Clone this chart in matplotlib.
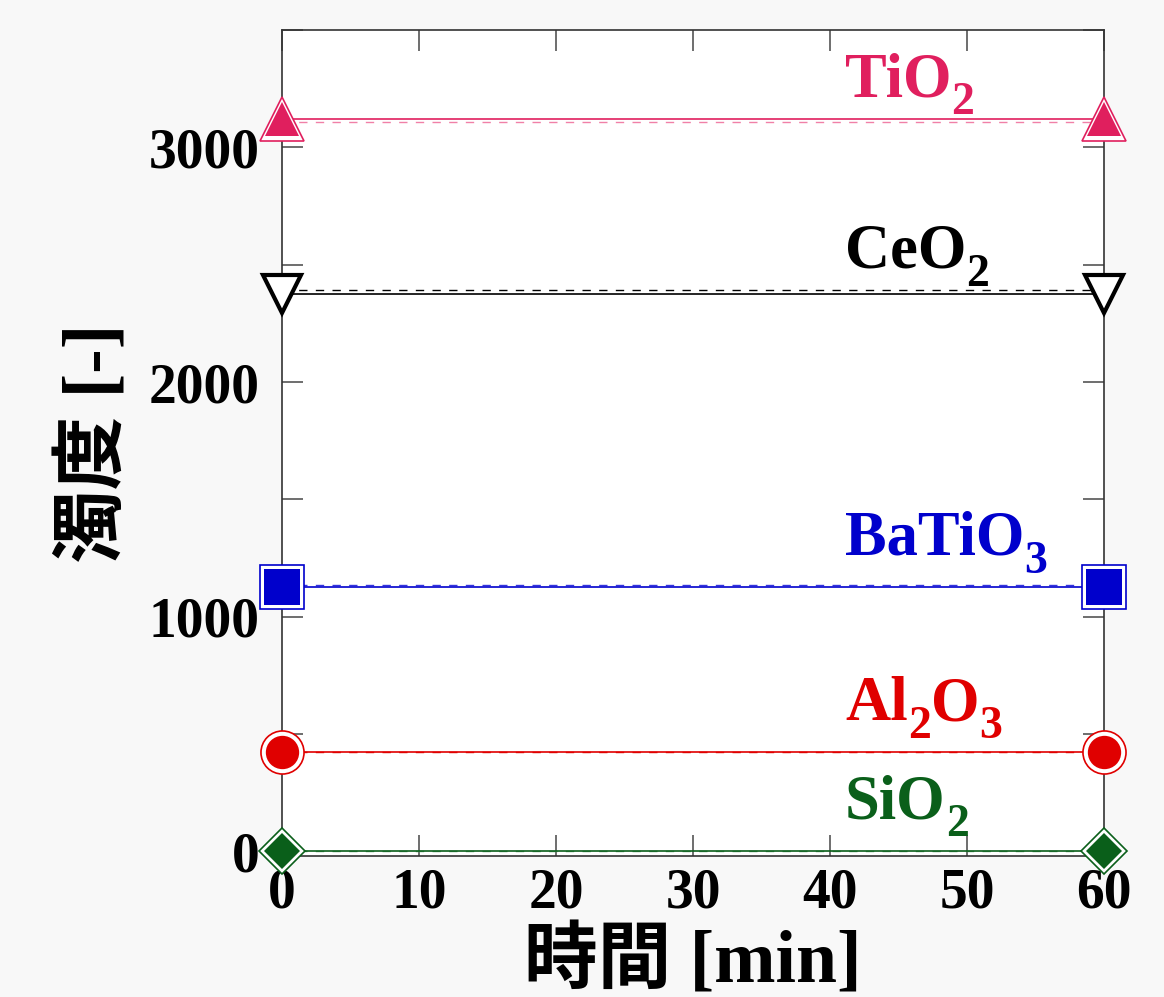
import numpy as np
import matplotlib
matplotlib.use("Agg")
import matplotlib.pyplot as plt
from matplotlib.transforms import offset_copy

plt.rcParams["font.family"] = ["Liberation Serif", "Noto Sans CJK JP"]
plt.rcParams["font.weight"] = "bold"

# time points (min)
time = [0, 60]

materials = ["TiO2", "CeO2", "BaTiO3", "Al2O3", "SiO2"]
# label pieces: (text, is_subscript)
label_parts = [
    [("TiO", False), ("2", True)],
    [("CeO", False), ("2", True)],
    [("BaTiO", False), ("3", True)],
    [("Al", False), ("2", True), ("O", False), ("3", True)],
    [("SiO", False), ("2", True)],
]
# turbidity, measured (solid) and reference (dashed)
turb_solid = [3120, 2373, 1127, 423, 0]
turb_dashed = [3108, 2394, 1135, 423, 2]
label_y = [3218, 2488, 1263, 559, 141]

colors = ["#E01F5E", "#000000", "#0000CC", "#E00000", "#0A5F1A"]
dash_colors = ["#F080A8", "#000000", "#3333DD", "#E00000", "#5FA070"]
markers = ["^", "v", "s", "o", "D"]
inner_size = [24, 28, 26, 24, 18]
outer_size = [31, 28, 31.5, 31, 23.5]

fig = plt.figure(figsize=(11.64, 9.97), dpi=100, facecolor="#F8F8F8")
ax = fig.add_axes([0.2423, 0.1414, 0.7062, 0.8285])
ax.set_facecolor("white")
ax.set_xlim(0, 60)
ax.set_ylim(-20, 3500)
renderer = fig.canvas.get_renderer()


def chem_label(x, y, parts, color, size=45, sub_size=33, sub_drop=13):
    # write a formula piece by piece so subscripts sit low like a print formula
    dx = 0.0
    for txt, sub in parts:
        tr = offset_copy(ax.transData, fig=fig, x=dx, y=-sub_drop if sub else 0,
                         units="points")
        t = ax.text(x, y, txt, transform=tr, color=color,
                    fontsize=sub_size if sub else size, fontweight="bold",
                    ha="left", va="baseline")
        dx += t.get_window_extent(renderer).width * 72 / fig.dpi


for i, name in enumerate(materials):
    c = colors[i]
    ax.plot(time, [turb_dashed[i]] * 2, color=dash_colors[i], lw=1.0,
            ls=(0, (6, 6)), zorder=2)
    ax.plot(time, [turb_solid[i]] * 2, color=c, lw=1.2, zorder=3)
    if name == "CeO2":
        ax.plot(time, [turb_solid[i]] * 2, ls="none", marker=markers[i],
                ms=inner_size[i], mfc="white", mec=c, mew=3, clip_on=False, zorder=5)
    else:
        # outer ring, then the filled marker on top
        ax.plot(time, [turb_solid[i]] * 2, ls="none", marker=markers[i],
                ms=outer_size[i], mfc="white", mec=c, mew=1.2, clip_on=False, zorder=4)
        ax.plot(time, [turb_solid[i]] * 2, ls="none", marker=markers[i],
                ms=inner_size[i], mfc=c, mec=c, mew=0, clip_on=False, zorder=5)
    chem_label(41.1, label_y[i], label_parts[i], c)

ax.set_xlim(0, 60)
ax.set_ylim(-20, 3500)
ax.set_xticks(np.arange(0, 61, 10))
ax.set_yticks(np.arange(0, 3001, 1000))
ax.set_yticks(np.arange(0, 3501, 500), minor=True)
ax.tick_params(axis="both", which="both", direction="in", top=True, right=True,
               color="#555555", labelsize=40)
ax.tick_params(axis="both", which="major", length=15, width=1.2)
ax.tick_params(axis="y", which="minor", length=15, width=1.2)
ax.tick_params(axis="y", which="major", pad=16)
ax.tick_params(axis="x", which="major", pad=8)
for lab in ax.get_xticklabels() + ax.get_yticklabels():
    lab.set_fontweight("bold")
for sp in ax.spines.values():
    sp.set_color("#333333")
    sp.set_linewidth(1.2)

ax.set_xlabel("時間 [min]", fontsize=53, fontweight="bold", va="top")
ax.xaxis.set_label_coords(0.5, -0.085)
ax.set_ylabel("濁度 [-]", fontsize=53, fontweight="bold", va="center")
ax.yaxis.set_label_coords(-0.227, 0.5)

fig.savefig("out.png", dpi=100, facecolor=fig.get_facecolor())
